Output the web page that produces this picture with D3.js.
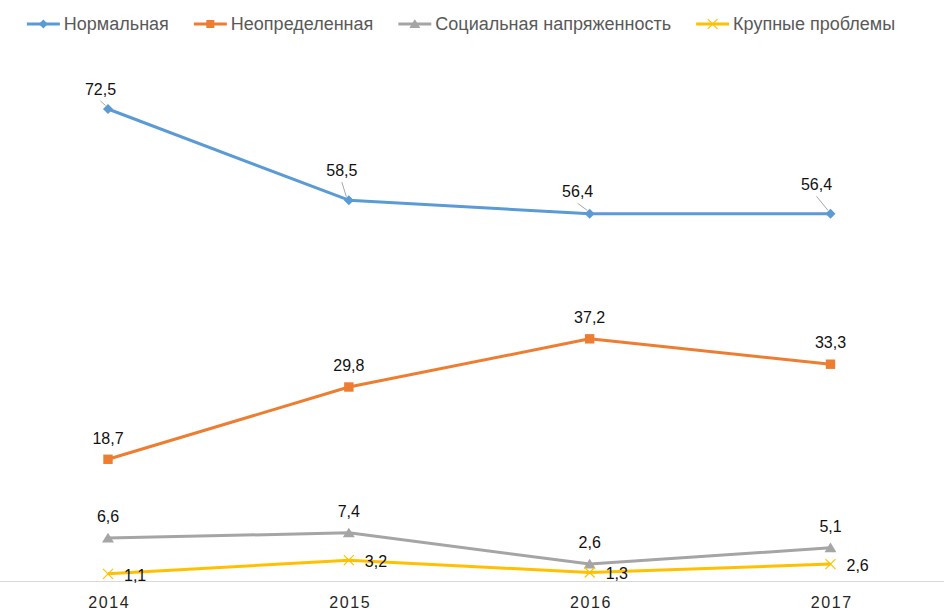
<!DOCTYPE html>
<html><head><meta charset="utf-8">
<script src="https://cdn.jsdelivr.net/npm/d3@7"></script>
<style>body{margin:0;background:#fff} svg{display:block;font-family:"Liberation Sans",Arial,sans-serif}</style>
</head><body>
<script>
// ---- data ----
const years = ["2014", "2015", "2016", "2017"];
const seriesNames = ["Нормальная", "Неопределенная", "Социальная напряженность", "Крупные проблемы"];
const normal = [72.5, 58.5, 56.4, 56.4];
const uncertain = [18.7, 29.8, 37.2, 33.3];
const tension = [6.6, 7.4, 2.6, 5.1];
const bigProblems = [1.1, 3.2, 1.3, 2.6];
const yDomain = [0, 80];

// ---- styles ----
const colors = ["#5B9BD5", "#ED7D31", "#A5A5A5", "#FFC000"];
const markerTypes = ["diamond", "square", "triangle", "x"];
const labelModes = ["leader", "above", "above", "right"];
// offsets (px) of the leader-line labels of the first series, relative to the point
const leaderShift = [[-7.5, -20], [-7, -30], [-12, -22.5], [-14, -29.5]];

const W = 944, H = 614;
const svg = d3.select("body").append("svg").attr("width", W).attr("height", H);

const x = d3.scalePoint().domain(years).range([108, 830.5]);
const y = d3.scaleLinear().domain(yDomain).range([581, 60.2]);

const locale = d3.formatLocale({decimal: ",", thousands: " ", grouping: [3], currency: ["", ""]});
const fmt = locale.format(".1f");

const series = [normal, uncertain, tension, bigProblems].map((vals, i) => ({
  name: seriesNames[i], values: vals, color: colors[i], marker: markerTypes[i], mode: labelModes[i]
}));

// axis
const axisG = svg.append("g").attr("transform", `translate(0,${y(0)})`)
  .call(d3.axisBottom(x).tickSize(0).tickPadding(16));
axisG.select(".domain").remove();
axisG.append("line").attr("x1", 0).attr("x2", W).attr("y1", 0.5).attr("y2", 0.5)
  .attr("stroke", "#D9D9D9").attr("stroke-width", 1);
axisG.selectAll(".tick text")
  .attr("font-size", 16).attr("fill", "#262626").attr("letter-spacing", "1.6px")
  .attr("font-family", '"Liberation Sans",Arial,sans-serif').attr("dx", "0.8px");

function drawMarker(g, type, color, s) {
  if (type === "diamond") {
    g.append("path").attr("d", `M0,${-s}L${s},0L0,${s}L${-s},0Z`).attr("fill", color);
  } else if (type === "square") {
    g.append("rect").attr("x", -s).attr("y", -s).attr("width", 2 * s).attr("height", 2 * s).attr("fill", color);
  } else if (type === "triangle") {
    g.append("path").attr("d", `M0,${-s}L${s * 1.15},${s * 0.85}L${-s * 1.15},${s * 0.85}Z`).attr("fill", color);
  } else {
    g.append("path").attr("d", `M${-s},${-s}L${s},${s}M${-s},${s}L${s},${-s}`)
      .attr("stroke", color).attr("stroke-width", 1.2).attr("fill", "none");
  }
}

const line = d3.line().x((d, i) => x(years[i])).y(d => y(d));
const markerSize = {diamond: 5, square: 4.7, triangle: 5.2, x: 5};

series.forEach(s => {
  const g = svg.append("g");
  g.append("path").attr("d", line(s.values)).attr("fill", "none")
    .attr("stroke", s.color).attr("stroke-width", 3).attr("stroke-linejoin", "round");
  s.values.forEach((v, i) => {
    const m = g.append("g").attr("transform", `translate(${x(years[i])},${y(v)})`);
    drawMarker(m, s.marker, s.color, markerSize[s.marker]);
  });
});

// data labels
series.forEach(s => {
  s.values.forEach((v, i) => {
    const px = x(years[i]), py = y(v);
    let lx, ly, anchor = "middle";
    if (s.mode === "leader") {
      lx = px + leaderShift[i][0]; ly = py + leaderShift[i][1];
      svg.append("line").attr("x1", lx).attr("y1", ly + 12).attr("x2", px - 2.5).attr("y2", py - 3.5)
        .attr("stroke", "#A6A6A6").attr("stroke-width", 1);
    } else if (s.mode === "above") {
      lx = px; ly = py - 21.5;
    } else {
      lx = px + 16; ly = py + 1; anchor = "start";
    }
    svg.append("text").attr("x", lx).attr("y", ly).attr("dy", "0.36em")
      .attr("text-anchor", anchor).attr("font-size", 16).attr("fill", "#111")
      .text(fmt(v));
  });
});

// legend
const legend = svg.append("g");
const legItems = series.map(s => {
  const g = legend.append("g");
  g.append("line").attr("x1", 0).attr("x2", 33).attr("y1", 24).attr("y2", 24)
    .attr("stroke", s.color).attr("stroke-width", 3);
  const m = g.append("g").attr("transform", "translate(16.5,24)");
  drawMarker(m, s.marker, s.color, s.marker === "diamond" ? 4.5 : s.marker === "square" ? 4 : 4.8);
  const t = g.append("text").attr("x", 37).attr("y", 24).attr("dy", "0.36em")
    .attr("font-size", 18).attr("fill", "#595959").text(s.name);
  return {g, w: 37 + t.node().getComputedTextLength()};
});
const gap = 25;
const total = d3.sum(legItems, d => d.w) + gap * (legItems.length - 1);
let cx = 461 - total / 2;
legItems.forEach(it => { it.g.attr("transform", `translate(${cx},0)`); cx += it.w + gap; });
</script>
</body></html>
